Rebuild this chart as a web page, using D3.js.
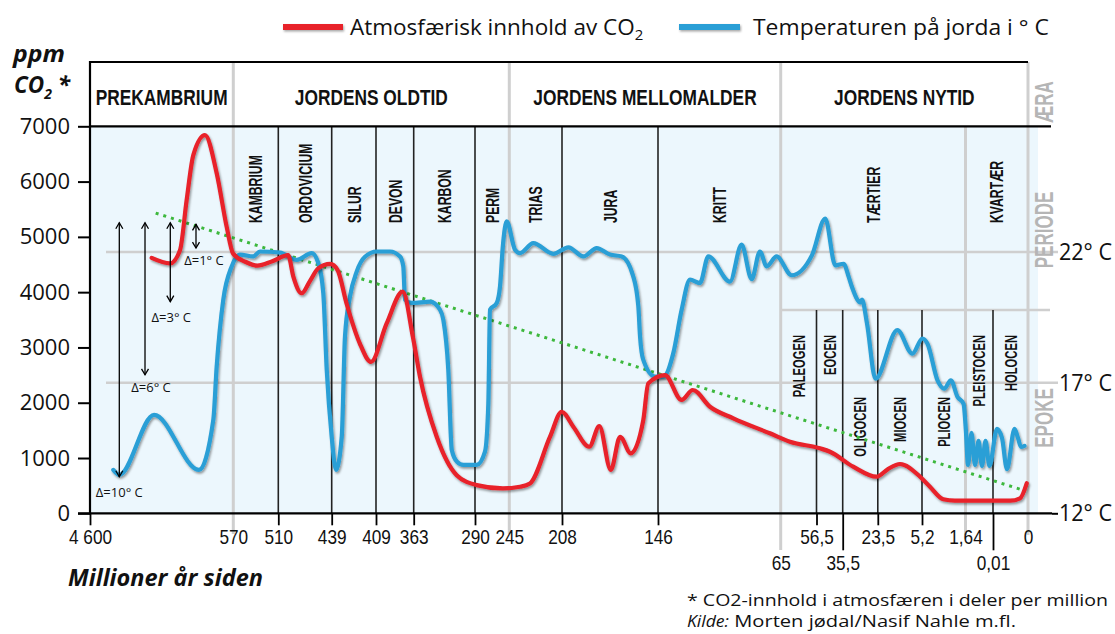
<!DOCTYPE html>
<html><head><meta charset="utf-8">
<script src="https://cdn.jsdelivr.net/npm/d3@7"></script>
<style>
body{margin:0;background:#fff;}
svg{display:block;}
</style></head><body>
<svg id="chart" width="1115" height="634"></svg>
<script>
// ---------------- DATA ----------------
const ageTicks = [4600, 570, 510, 439, 409, 363, 290, 245, 208, 146, 65, 56.5, 35.5, 23.5, 5.2, 1.64, 0.01, 0];
const ageTickLabels = ["4 600","570","510","439","409","363","290","245","208","146","65","56,5","35,5","23,5","5,2","1,64","0,01","0"];
const secondRowTicks = [65, 35.5, 0.01];

const eraNames = ["PREKAMBRIUM","JORDENS OLDTID","JORDENS MELLOMALDER","JORDENS NYTID"];
const eraBounds = [4600, 570, 245, 65, 0];

const periodNames = ["KAMBRIUM","ORDOVICIUM","SILUR","DEVON","KARBON","PERM","TRIAS","JURA","KRITT","TÆRTIER","KVARTÆR"];
const periodBounds = [570, 510, 439, 409, 363, 290, 245, 208, 146, 65, 1.64, 0];

const epochNames = ["PALEOGEN","EOCEN","OLIGOCEN","MIOCEN","PLIOCEN","PLEISTOCEN","HOLOCEN"];
const epochBounds = [65, 56.5, 35.5, 23.5, 5.2, 1.64, 0.01, 0];

const co2Ticks = [0,1000,2000,3000,4000,5000,6000,7000];
const tempTicks = [12,17,22];
const tempTickLabels = ["12° C","17° C","22° C"];

// CO2 (ppm) vs age (million years ago)
const co2Age = [2865, 2350, 2069, 1881, 1695, 1366, 1037, 756, 578, 554, 538, 518, 497, 490, 479, 468, 457, 441, 435, 429, 420, 412.4, 396, 376.4, 364, 355.5, 335.6, 311.8, 287.8, 253.3, 237.5, 230.5, 216.4, 208.2, 200.7, 190.4, 183.9, 176.5, 170.5, 163.6, 155.5, 152.3, 141.4, 130.4, 123.1, 111.7, 96.3, 72.1, 62.8, 53.7, 45.7, 31.9, 23.9, 19.3, 14.3, 6.0, 4.55, 3.46, 2.5, 1.37, 0.00514, 0.00229, 0.00037];
const co2Value = [4620, 4520, 4760, 5670, 6480, 6840, 6150, 5180, 4700, 4550, 4480, 4560, 4670, 4280, 3980, 4200, 4430, 4510, 4400, 3800, 3075, 2740, 3435, 4008, 3190, 2470, 1385, 690, 510, 450, 480, 540, 1385, 1837, 1566, 1204, 1578, 783, 1385, 1085, 1687, 2350, 2500, 2050, 2230, 1928, 1718, 1447, 1295, 1175, 1114, 843, 662, 800, 892, 662, 480, 253, 228, 228, 228, 271, 543];

// Temperature (°C) vs age
const tempAge = [3945, 3776, 2800, 1535, 1133, 1037, 852, 615, 561.1, 543.3, 534.4, 507.7, 485.5, 465.6, 456.8, 450.2, 445.6, 439, 436.1, 432.2, 430, 426.6, 422.1, 416.5, 408.1, 391.9, 379.7, 375.7, 373.6, 365.4, 343.6, 331.7, 327.7, 321.8, 317.7, 311.4, 303.9, 287.8, 276.9, 272.5, 270.3, 261.5, 257.2, 253.3, 248.4, 241.0, 237.5, 228.2, 214.1, 203.9, 194.2, 185.6, 177, 169.4, 162, 158.7, 157.6, 155.5, 147.9, 142.5, 135.9, 130.4, 124.9, 118.3, 112.8, 98.5, 90.8, 84.2, 78.7, 74.3, 67.7, 62.4, 57.6, 49.5, 41.4, 35.2, 33.4, 32.3, 29.4, 28.9, 27.2, 24.3, 15.4, 9.2, 5.17, 4.76, 3.93, 3.38, 2.84, 2.29, 1.8, 1.616, 1.492, 1.284, 1.077, 0.869, 0.662, 0.454, 0.217, 0.00886, 0.00743, 0.006, 0.00386, 0.00286, 0.002, 0.001];
const tempValue = [13.66, 13.47, 15.77, 13.66, 15.57, 17.62, 20.17, 21.45, 21.9, 21.83, 22.02, 21.98, 21.7, 21.96, 21.58, 20.43, 17.49, 14.93, 13.66, 14.93, 18.77, 20.3, 21.25, 21.82, 22.02, 22.02, 21.83, 21.45, 20.17, 20.05, 20.1, 19.79, 19.4, 17.49, 14.43, 13.97, 13.85, 13.85, 14.36, 16.21, 19.79, 20.05, 20.68, 22.28, 23.17, 22.09, 21.96, 22.34, 21.93, 22.18, 21.83, 22.15, 21.9, 21.83, 21.07, 19.92, 18.77, 17.87, 17.23, 17.23, 18.13, 19.79, 20.94, 20.81, 21.83, 20.87, 22.28, 20.96, 22.02, 21.45, 21.83, 21.11, 21.87, 23.28, 21.49, 21.55, 21.03, 20.65, 20.07, 20.18, 19.27, 17.15, 19.01, 18.11, 18.69, 18.5, 17.09, 16.77, 17.09, 16.45, 16.19, 15.16, 13.85, 15.08, 13.85, 14.77, 13.81, 14.77, 13.81, 15.23, 14.88, 13.69, 15.23, 14.88, 14.54, 14.58];

// Temperature trend (dotted green)
const trendAge = [2753, 0.0006];
const trendTemp = [23.49, 12.85];

// Temperature-difference arrows
const arrowAge = [3776, 3053, 2342, 1619];
const arrowTop = [23.12, 23.12, 23.12, 23.06];
const arrowBottom = [13.4, 17.3, 20.1, 22.15];
const arrowLabels = ["Δ=10° C","Δ=6° C","Δ=3° C","Δ=1° C"];

// ---------------- LAYOUT ----------------
const svg = d3.select("#chart");
const xStops = [90, 233.3, 278.3, 331.7, 376, 413.7, 475, 509.3, 562, 658, 780.7, 816.5, 842.7, 877.8, 922, 965.5, 993, 1028];
const x = d3.scaleLinear().domain(ageTicks).range(xStops);
const y = d3.scaleLinear().domain([0,7000]).range([513.3,126.3]);
const yT = d3.scaleLinear().domain([12,22]).range([513.3,252]);
const HEAD_TOP = 62, PLOT_TOP = y(7000), BASE = y(0), EPOCH_TOP = 310;
const LEFT = x(4600), BG_RIGHT = 1038;

const REG = "'Open Sans','Noto Sans',sans-serif";
const COND = "'Liberation Sans',Arial,sans-serif";
const GRAY = "#cfcfcf";

function squeeze(sel, k){
  sel.each(function(){
    const L = this.getComputedTextLength();
    d3.select(this).attr("textLength", L*k).attr("lengthAdjust","spacingAndGlyphs");
  });
}
function fit(sel, w){
  sel.attr("textLength", w).attr("lengthAdjust","spacingAndGlyphs");
}

const defs = svg.append("defs");
const filt = defs.append("filter").attr("id","shadow")
  .attr("x","-5%").attr("y","-5%").attr("width","110%").attr("height","115%");
filt.append("feDropShadow").attr("dx",1.2).attr("dy",1.8).attr("stdDeviation",1.3)
  .attr("flood-color","#000").attr("flood-opacity",0.4);
const filt2 = defs.append("filter").attr("id","shadow2").attr("filterUnits","userSpaceOnUse")
  .attr("x",0).attr("y",0).attr("width",1115).attr("height",634);
filt2.append("feDropShadow").attr("dx",1).attr("dy",1.5).attr("stdDeviation",1)
  .attr("flood-color","#000").attr("flood-opacity",0.35);

// background
svg.append("rect").attr("x",LEFT).attr("y",PLOT_TOP).attr("width",BG_RIGHT-LEFT).attr("height",BASE-PLOT_TOP).attr("fill","#ecf7fd");

// horizontal gray temperature lines (22°, 17°)
svg.append("g").selectAll("line").data([22,17]).join("line")
  .attr("x1",106).attr("x2",1058).attr("y1",d=>yT(d)).attr("y2",d=>yT(d))
  .attr("stroke",GRAY).attr("stroke-width",2.5);
// epoch box top
svg.append("line").attr("x1",x(65)).attr("x2",1050).attr("y1",EPOCH_TOP).attr("y2",EPOCH_TOP)
  .attr("stroke",GRAY).attr("stroke-width",2.5);

// gray boundary lines (eras + 1.64 + 0)
const grayLines = [
  {a:570, y1:HEAD_TOP, y2:534},
  {a:245, y1:HEAD_TOP, y2:534},
  {a:65, y1:HEAD_TOP, y2:550},
  {a:1.64, y1:PLOT_TOP, y2:535},
  {a:0, y1:HEAD_TOP, y2:535}
];
svg.append("g").selectAll("line").data(grayLines).join("line")
  .attr("x1",d=>x(d.a)).attr("x2",d=>x(d.a)).attr("y1",d=>d.y1).attr("y2",d=>d.y2)
  .attr("stroke",GRAY).attr("stroke-width",3);

// black period lines
const blackPeriod = periodBounds.filter(a => ![570,245,65,1.64,0].includes(a));
svg.append("g").selectAll("line").data(blackPeriod).join("line")
  .attr("x1",d=>x(d)).attr("x2",d=>x(d)).attr("y1",PLOT_TOP).attr("y2",BASE)
  .attr("stroke","#222").attr("stroke-width",1.6);
// black epoch lines
const blackEpoch = epochBounds.filter(a => ![65,1.64,0].includes(a));
svg.append("g").selectAll("line").data(blackEpoch).join("line")
  .attr("x1",d=>x(d)).attr("x2",d=>x(d)).attr("y1",EPOCH_TOP).attr("y2",BASE)
  .attr("stroke","#222").attr("stroke-width",1.6);

// header lines
svg.append("line").attr("x1",LEFT).attr("x2",x(0)).attr("y1",HEAD_TOP).attr("y2",HEAD_TOP).attr("stroke","#000").attr("stroke-width",2);
svg.append("line").attr("x1",LEFT).attr("x2",1051).attr("y1",PLOT_TOP).attr("y2",PLOT_TOP).attr("stroke","#000").attr("stroke-width",2.2);

// era labels
const eraT = svg.append("g").selectAll("text").data(eraNames).join("text")
  .attr("x",(d,i)=>(x(eraBounds[i])+x(eraBounds[i+1]))/2).attr("y",105)
  .attr("text-anchor","middle").attr("font-family",COND).attr("font-weight","bold")
  .attr("font-size",22.5).attr("fill","#111").text(d=>d);
squeeze(eraT, 0.77);

// period labels (vertical)
const perT = svg.append("g").selectAll("text").data(periodNames).join("text")
  .attr("transform",(d,i)=>`translate(${(x(periodBounds[i])+x(periodBounds[i+1]))/2},223) rotate(-90)`)
  .attr("dy","0.36em").attr("text-anchor","start").attr("font-family",COND).attr("font-weight","bold")
  .attr("font-size",18.5).attr("fill","#111").text(d=>d);
squeeze(perT, 0.66);

// epoch labels
const lowEpochs = new Set(["OLIGOCEN","MIOCEN","PLIOCEN"]);
const epT = svg.append("g").selectAll("text").data(epochNames).join("text")
  .attr("transform",(d,i)=>`translate(${(x(epochBounds[i])+x(epochBounds[i+1]))/2},${lowEpochs.has(d)?397:335}) rotate(-90)`)
  .attr("dy","0.36em").attr("text-anchor","end").attr("font-family",COND).attr("font-weight","bold")
  .attr("font-size",17).attr("fill","#111").text(d=>d);
squeeze(epT, 0.66);

// right side gray level labels
const lvl = [{t:"ÆRA",c:102},{t:"PERIODE",c:230},{t:"EPOKE",c:418}];
const lvT = svg.append("g").selectAll("text").data(lvl).join("text")
  .attr("transform",d=>`translate(1044,${d.c}) rotate(-90)`).attr("dy","0.36em")
  .attr("text-anchor","middle").attr("font-family",COND).attr("font-weight","bold")
  .attr("font-size",25).attr("fill","#b5b5b5").text(d=>d.t);
squeeze(lvT, 0.68);

// ---------------- CURVES ----------------
const trendLine = d3.line().x(d=>x(d[0])).y(d=>yT(d[1]));
svg.append("path").datum(d3.zip(trendAge,trendTemp)).attr("d",trendLine)
  .attr("fill","none").attr("stroke","#3db83d").attr("stroke-width",3).attr("stroke-dasharray","3,5");

const tLine = d3.line().x(d=>x(d[0])).y(d=>yT(d[1])).curve(d3.curveMonotoneX);
svg.append("path").datum(d3.zip(tempAge,tempValue)).attr("d",tLine)
  .attr("fill","none").attr("stroke","#2a9fd6").attr("stroke-width",4.2)
  .attr("stroke-linejoin","round").attr("stroke-linecap","round").attr("filter","url(#shadow)");

const cLine = d3.line().x(d=>x(d[0])).y(d=>y(d[1])).curve(d3.curveMonotoneX);
svg.append("path").datum(d3.zip(co2Age,co2Value)).attr("d",cLine)
  .attr("fill","none").attr("stroke","#e8202a").attr("stroke-width",4.2)
  .attr("stroke-linejoin","round").attr("stroke-linecap","round").attr("filter","url(#shadow)");

// ---------------- AXES ----------------
// left axis
const yAxis = svg.append("g").attr("transform",`translate(${LEFT},0)`)
  .call(d3.axisLeft(y).tickValues(co2Ticks).tickSize(12).tickPadding(8).tickFormat(d3.format("d")));
yAxis.select(".domain").remove();
yAxis.selectAll(".tick line").attr("stroke","#000").attr("stroke-width",2);
yAxis.selectAll(".tick text").attr("font-family",REG).attr("font-size",22).attr("fill","#111");
svg.append("line").attr("x1",LEFT).attr("x2",LEFT).attr("y1",HEAD_TOP-1).attr("y2",BASE+1).attr("stroke","#000").attr("stroke-width",2.2);

// bottom axis
svg.append("line").attr("x1",78).attr("x2",1052).attr("y1",BASE).attr("y2",BASE).attr("stroke","#000").attr("stroke-width",2.2);
const xAxis = svg.append("g").attr("transform",`translate(0,${BASE})`)
  .call(d3.axisBottom(x).tickValues(ageTicks).tickSize(12).tickFormat((d,i)=>ageTickLabels[i]));
xAxis.select(".domain").remove();
const grayAges = [570,245,65,1.64,0];
xAxis.selectAll(".tick line").attr("stroke","#000").attr("stroke-width",1.8)
  .attr("y2",d=>secondRowTicks.includes(d)?37:12)
  .attr("opacity",d=>grayAges.includes(d)?0:1);
const xLab = xAxis.selectAll(".tick text").attr("font-family",COND).attr("font-size",21).attr("fill","#111")
  .attr("y",d=>secondRowTicks.includes(d)?42:16).attr("dy","0.71em");
squeeze(xLab, 0.82);

// right temperature axis
const tAxis = svg.append("g").attr("transform","translate(1052,0)")
  .call(d3.axisRight(yT).tickValues(tempTicks).tickSize(6).tickPadding(1).tickFormat((d,i)=>tempTickLabels[i]));
tAxis.select(".domain").remove();
tAxis.selectAll(".tick line").attr("stroke","#000").attr("stroke-width",2).attr("opacity",d=>d===12?1:0);
const tLab = tAxis.selectAll(".tick text").attr("font-family",REG).attr("font-size",23).attr("fill","#111");
fit(tLab, 53);

// ---------------- ARROWS ----------------
const ag = svg.append("g").attr("stroke","#000").attr("stroke-width",1.3).attr("fill","none");
arrowAge.forEach((a,i)=>{
  const ax = x(a), t = yT(arrowTop[i]), b = yT(arrowBottom[i]);
  ag.append("line").attr("x1",ax).attr("x2",ax).attr("y1",t).attr("y2",b);
  ag.append("path").attr("d",`M${ax-3.5},${t+6}L${ax},${t}L${ax+3.5},${t+6}`);
  ag.append("path").attr("d",`M${ax-3.5},${b-6}L${ax},${b}L${ax+3.5},${b-6}`);
});
const labOff = [0, 6, 1, 8];
const labDy = [20, 17, 20, 17];
svg.append("g").selectAll("text").data(arrowLabels).join("text")
  .attr("x",(d,i)=>x(arrowAge[i])+labOff[i]).attr("y",(d,i)=>yT(arrowBottom[i])+labDy[i])
  .attr("text-anchor","middle").attr("font-family",REG).attr("font-size",13).attr("fill","#111").text(d=>d);

// ---------------- TEXTS ----------------
// legend
svg.append("line").attr("x1",283).attr("x2",343).attr("y1",27).attr("y2",27).attr("stroke","#e8202a").attr("stroke-width",6).attr("filter","url(#shadow2)");
const l1 = svg.append("text").attr("x",350).attr("y",35).attr("font-family",REG).attr("font-size",22.5).attr("fill","#111");
l1.append("tspan").text("Atmosfærisk innhold av CO");
l1.append("tspan").attr("font-size",15).attr("dy",5).text("2");
svg.append("line").attr("x1",679).attr("x2",740).attr("y1",27).attr("y2",27).attr("stroke","#2a9fd6").attr("stroke-width",6).attr("filter","url(#shadow2)");
const l2 = svg.append("text").attr("x",753).attr("y",35).attr("font-family",REG).attr("font-size",22.5).attr("fill","#111")
  .text("Temperaturen på jorda i ° C");
fit(l2, 296);

// ppm CO2 * (one text block, two lines)
const unit = svg.append("text").attr("x",13).attr("y",62).attr("font-family",REG).attr("font-weight","bold").attr("font-style","italic")
  .attr("font-size",22.5).attr("fill","#111");
unit.append("tspan").attr("x",13).attr("textLength",52).attr("lengthAdjust","spacingAndGlyphs").text("ppm");
unit.append("tspan").attr("x",14).attr("dy",31).text("CO");
unit.append("tspan").attr("font-size",14).attr("dy",6).text("2");
unit.append("tspan").attr("dy",-6).text(" *");

// axis title
svg.append("text").attr("x",68).attr("y",586).attr("font-family",REG).attr("font-weight","bold").attr("font-style","italic")
  .attr("font-size",23.5).attr("fill","#111").text("Millioner år siden");

// footnotes (one text block, two lines)
const fn = svg.append("text").attr("x",687).attr("y",606).attr("font-family",REG).attr("font-size",16).attr("fill","#111");
fn.append("tspan").attr("x",687).attr("textLength",421).attr("lengthAdjust","spacingAndGlyphs")
  .text("* CO2-innhold i atmosfæren i deler per million");
fn.append("tspan").attr("x",687).attr("dy",20.5).attr("font-style","italic")
  .attr("textLength",42).attr("lengthAdjust","spacingAndGlyphs").text("Kilde:");
fn.append("tspan").attr("textLength",287).attr("lengthAdjust","spacingAndGlyphs").text(" Morten jødal/Nasif Nahle m.fl.");
</script>
</body></html>
